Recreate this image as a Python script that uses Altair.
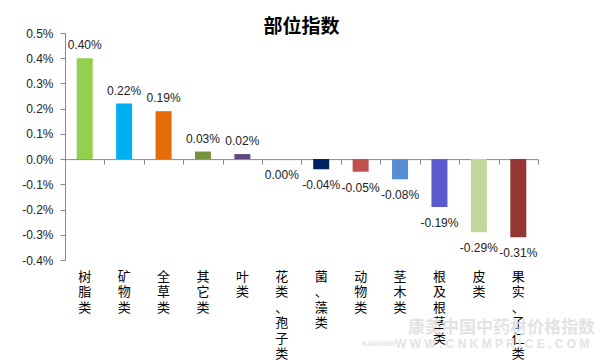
import altair as alt
import pandas as pd

cats = ["树脂类", "矿物类", "全草类", "其它类", "叶类", "花类、孢子类",
        "菌、藻类", "动物类", "茎木类", "根及根茎类", "皮类", "果实、子仁类"]
vals = [0.40, 0.22, 0.19, 0.03, 0.02, 0.00, -0.04, -0.05, -0.08, -0.19, -0.29, -0.31]
colors = ["#92D050", "#00B0F0", "#E46C0A", "#77933C", "#604A7B", "#FFFFFF",
          "#002060", "#C0504D", "#558ED5", "#5B5BCF", "#C3D69B", "#953735"]
y_ticks = [-0.4, -0.3, -0.2, -0.1, 0.0, 0.1, 0.2, 0.3, 0.4, 0.5]

df = pd.DataFrame({
    "cat": cats,
    "v": vals,
    "c": colors,
    "lab": [f"{v:.2f}%" for v in vals],
})

W, H = 473, 227
zero_offset = -H * 0.4 / 0.9

xscale = alt.Scale(domain=cats, paddingInner=0, paddingOuter=0)
yscale = alt.Scale(domain=[-0.4, 0.5], nice=False, zero=False)

yaxis = alt.Axis(values=y_ticks, grid=False, tickSize=5, labelPadding=7,
                 domainColor="#888888", tickColor="#888888",
                 labelFont="Liberation Sans", labelFontSize=12, labelColor="#222222",
                 labelExpr="replace(format(datum.value, '.1f'), '\u2212', '-') + '%'",
                 title=None)
Y = alt.Y("v:Q", scale=yscale, axis=yaxis)

base = alt.Chart(df)

bars = base.mark_bar(size=16).encode(
    x=alt.X("cat:N", sort=cats, scale=xscale,
            axis=alt.Axis(orient="bottom", ticks=False, domain=False, labelAngle=0,
                          labelExpr="split(datum.label, '')", labelPadding=10,
                          labelFont="Noto Sans CJK SC", labelFontSize=13,
                          labelLineHeight=15.5, labelBaseline="top", labelColor="#000000",
                          title=None)),
    y=Y,
    color=alt.Color("c:N", scale=None, legend=None),
)

zero_axis = base.mark_bar(size=16, opacity=0).encode(
    x=alt.X("cat:N", sort=cats, scale=xscale,
            axis=alt.Axis(orient="bottom", offset=zero_offset, labels=False,
                          ticks=True, tickBand="extent", tickSize=5, domain=True,
                          domainColor="#888888", tickColor="#888888", title=None)),
    y=Y,
)

pos_labels = base.transform_filter("datum.v > 0").mark_text(
    baseline="bottom", dy=-6, font="Liberation Sans", fontSize=12, color="#222222"
).encode(
    x=alt.X("cat:N", sort=cats, scale=xscale, axis=None),
    y=Y,
    text="lab:N",
)

neg_labels = base.transform_filter("datum.v <= 0").mark_text(
    baseline="top", dy=11, font="Liberation Sans", fontSize=12, color="#222222"
).encode(
    x=alt.X("cat:N", sort=cats, scale=xscale, axis=None),
    y=Y,
    text="lab:N",
)

wm1 = alt.Chart(pd.DataFrame({"t": ["康美中国中药材价格指数"]})).mark_text(
    font="Noto Sans CJK SC", fontSize=17, fontWeight="bold", color="#e3e3e3",
    align="left", baseline="middle"
).encode(x=alt.value(343), y=alt.value(295), text="t:N")

wm2 = alt.Chart(pd.DataFrame({"t": ["KANGMEI"]})).mark_text(
    font="Liberation Sans", fontSize=7, fontWeight="bold", color="#e3e3e3",
    align="left", baseline="middle"
).encode(x=alt.value(297), y=alt.value(311), text="t:N")

wm3 = alt.Chart(pd.DataFrame({"t": ["W W W .  C  N  K  M  P  R  I  C  E  .  C  O  M"]})).mark_text(
    font="Liberation Sans", fontSize=12, fontWeight="bold", color="#e3e3e3",
    align="left", baseline="middle"
).encode(x=alt.value(330), y=alt.value(311), text="t:N")

chart = alt.layer(wm1, wm2, wm3, bars, zero_axis, pos_labels, neg_labels).resolve_axis(
    x="independent"
).properties(
    width=W, height=H,
    title=alt.TitleParams("部位指数", font="Noto Sans CJK SC", fontSize=19,
                          fontWeight="bold", anchor="middle", offset=-10, color="#000000"),
    autosize=alt.AutoSizeParams(type="none"),
    padding={"left": 57, "top": 25, "right": 59, "bottom": 110},
).configure_view(stroke=None)

chart.save("out.html", embed_options={"renderer": "svg", "actions": False})
